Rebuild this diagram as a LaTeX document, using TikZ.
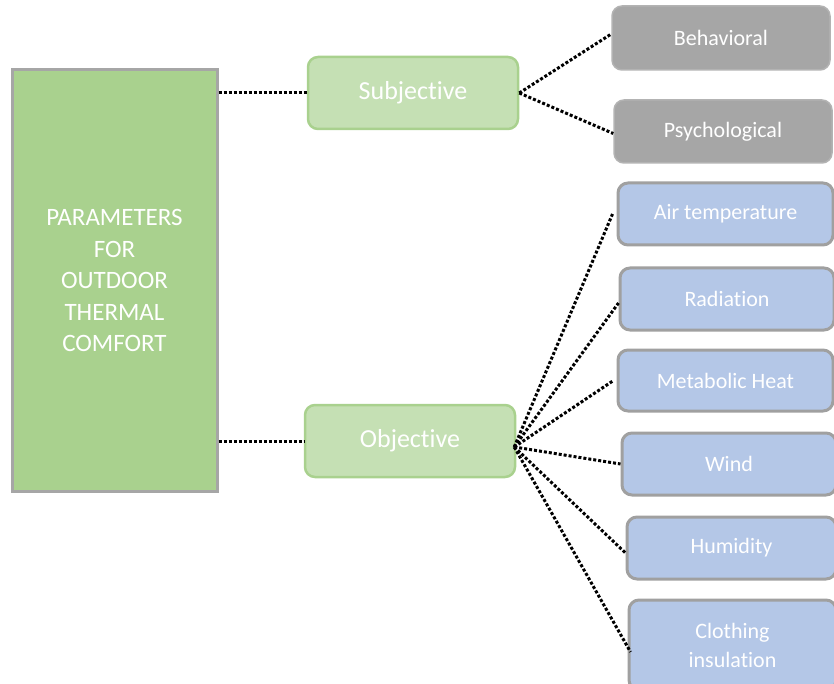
\documentclass[tikz,border=0pt]{standalone}
\usepackage{fontspec}
\setmainfont{Carlito}[Ligatures=NoCommon]
\definecolor{maingreen}{HTML}{A9D18E}
\definecolor{lightgreen}{HTML}{C5E0B4}
\definecolor{boxgray}{HTML}{A6A6A6}
\definecolor{bordergray}{HTML}{A0A0A0}
\definecolor{lightblue}{HTML}{B4C7E7}
\begin{document}
\begin{tikzpicture}[x=1pt,y=-1pt,
  mainbox/.style={draw=boxgray, line width=3pt, fill=maingreen, text=white, align=center, font=\fontsize{25}{31.5}\selectfont, inner sep=0pt},
  catbox/.style={draw=maingreen, line width=2.5pt, fill=lightgreen, text=white, rounded corners=10pt, font=\fontsize{26}{28}\selectfont, inner sep=0pt},
  graybox/.style={draw=boxgray!85, line width=1.5pt, fill=boxgray, text=white, rounded corners=10pt, font=\fontsize{22}{24}\selectfont, inner sep=0pt},
  bluebox/.style={draw=bordergray, line width=3pt, fill=lightblue, text=white, rounded corners=10pt, align=center, font=\fontsize{22}{29}\selectfont, inner sep=0pt},
  dotline/.style={draw=black, line width=3pt, dash pattern=on 3pt off 2pt}
]
\useasboundingbox (0,0) rectangle (834,684);
\clip (0,0) rectangle (834,684);

\node[mainbox, minimum width=205pt, minimum height=421pt] (main) at (114.5,280.5)
  {PARAMETERS\\FOR\\OUTDOOR\\THERMAL\\COMFORT};

\node[catbox, minimum width=210pt, minimum height=72pt] (sub) at (413,93) {Subjective};
\node[catbox, minimum width=210pt, minimum height=72pt] (obj) at (410,441) {Objective};

\node[graybox, minimum width=218pt, minimum height=64pt] (beh) at (721,38) {Behavioral};
\node[graybox, minimum width=218pt, minimum height=63pt] (psy) at (723,131.5) {Psychological};

\node[bluebox, minimum width=215pt, minimum height=62pt] (air) at (725.5,214) {Air temperature};
\node[bluebox, minimum width=214pt, minimum height=62pt] (rad) at (727,299) {Radiation};
\node[bluebox, minimum width=215pt, minimum height=61pt] (met) at (725.5,380.5) {Metabolic Heat};
\node[bluebox, minimum width=214pt, minimum height=62pt] (wind) at (729,464) {Wind};
\node[bluebox, minimum width=209pt, minimum height=62pt] (hum) at (731.5,548) {Humidity};
\node[bluebox, minimum width=207pt, minimum height=90pt] (clo) at (732.5,645) {Clothing\\insulation};

\draw[dotline] (main.east |- sub.west) -- (sub.west);
\draw[dotline] (main.east |- obj.west) -- (obj.west);
\draw[dotline] (sub.east) -- ([yshift=4pt]beh.west);
\draw[dotline] (sub.east) -- ([yshift=-2pt]psy.west);
\coordinate (hub) at ([xshift=-2pt,yshift=-6pt]obj.east);
\draw[dotline] (hub) -- ([xshift=-4pt]air.west);
\draw[dotline] (hub) -- ([yshift=-4pt]rad.west);
\draw[dotline] (hub) -- ([xshift=-3pt]met.west);
\draw[dotline] (hub) -- (wind.west);
\draw[dotline] (hub) -- ([yshift=-5pt]hum.west);
\draw[dotline] (hub) -- ([xshift=3pt,yshift=-7pt]clo.west);
\end{tikzpicture}
\end{document}
